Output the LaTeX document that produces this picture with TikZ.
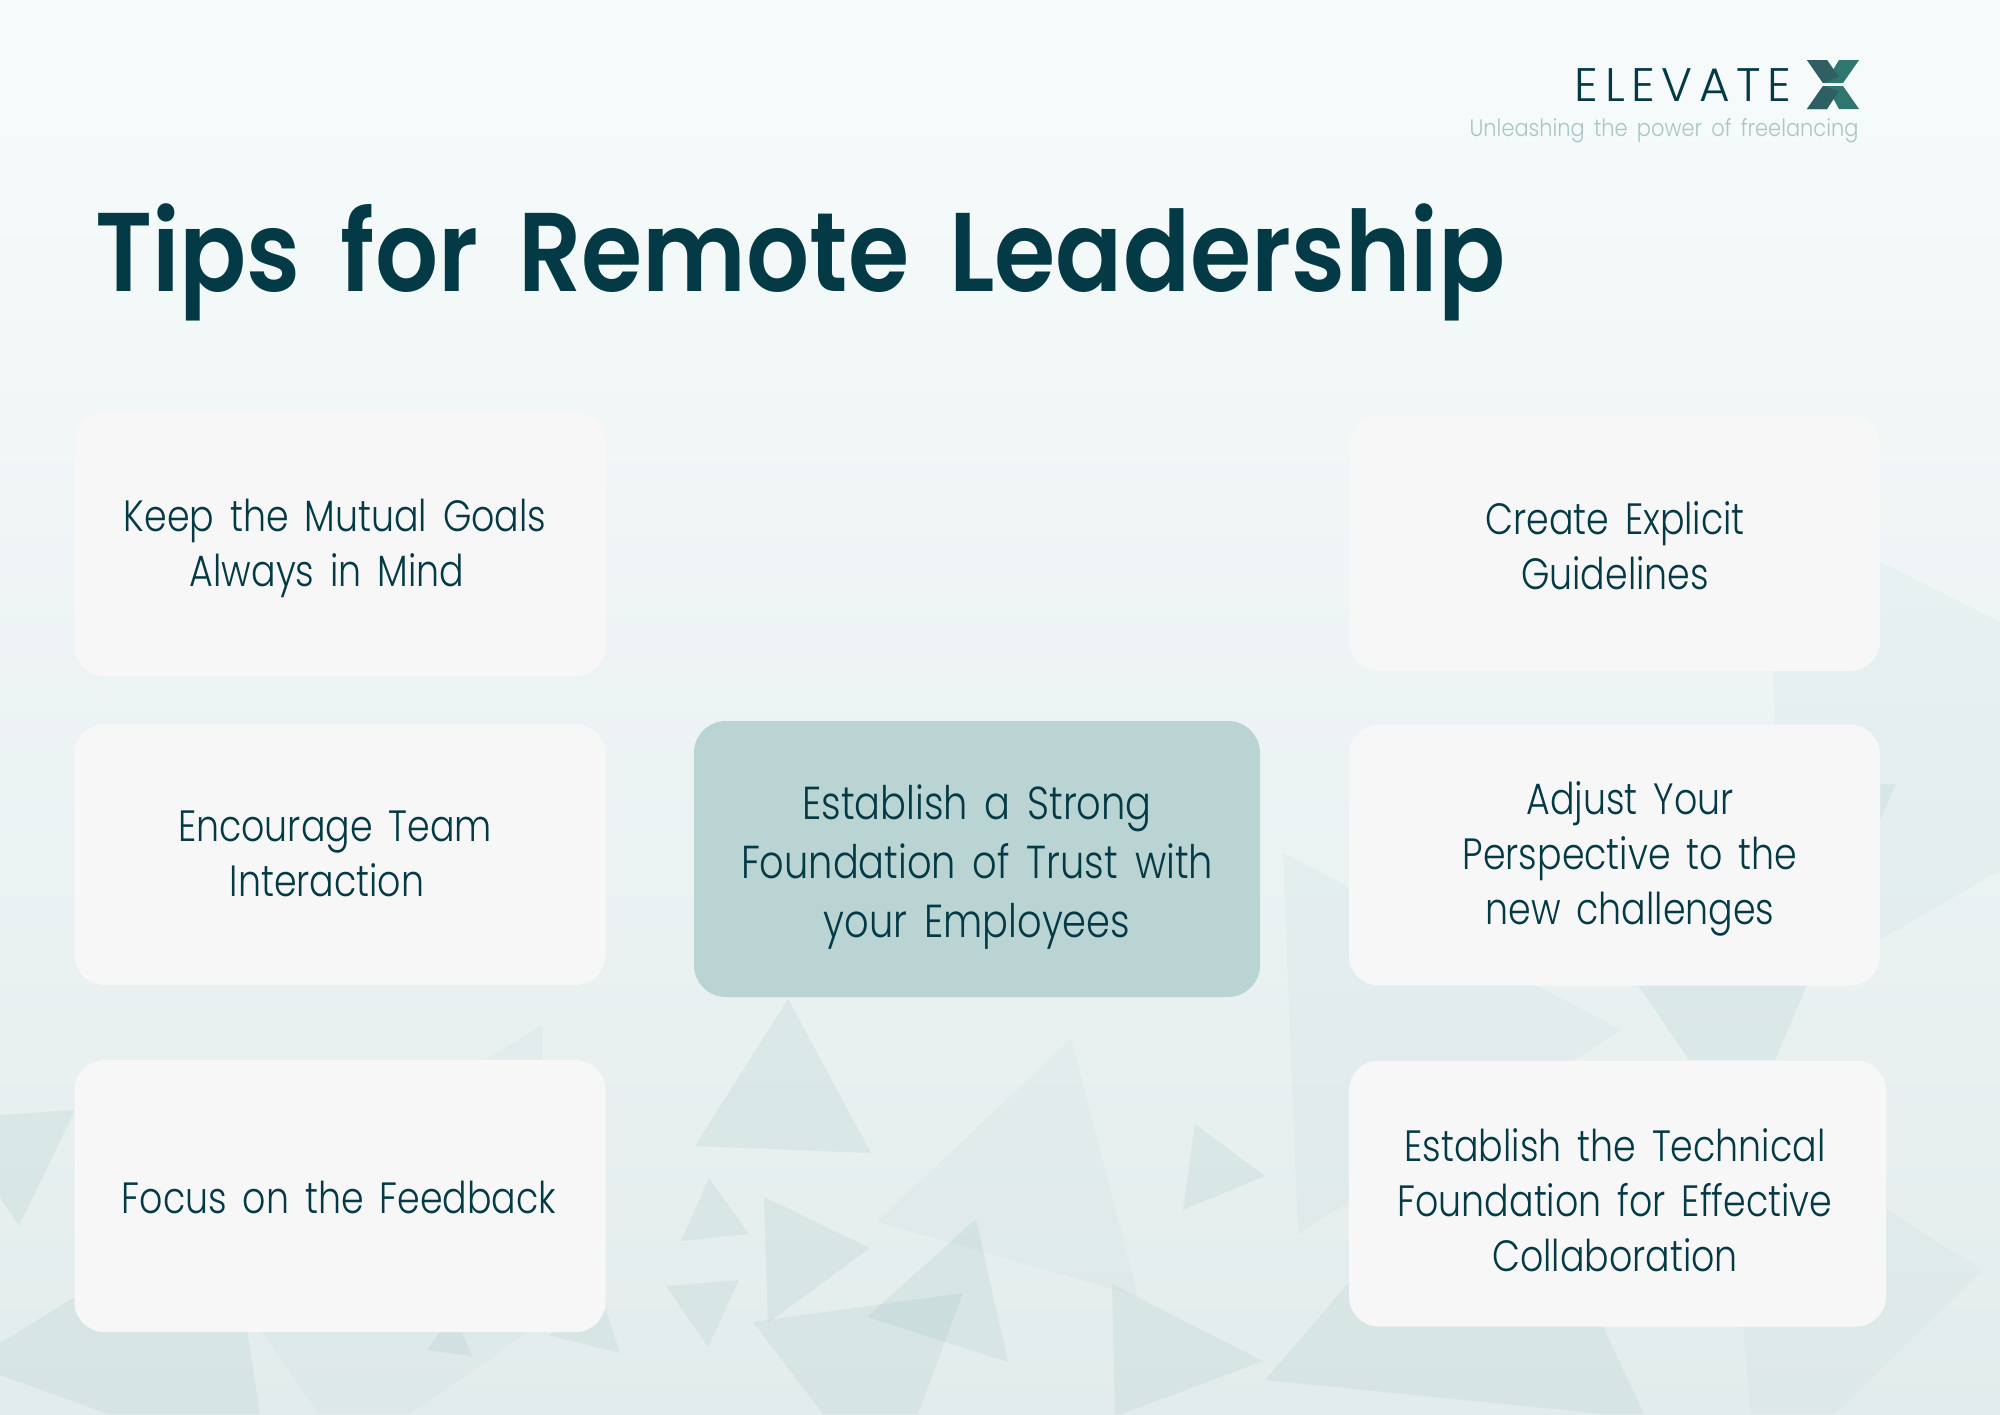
\documentclass[tikz,border=0pt]{standalone}
\usepackage{fontspec}
\setmainfont{Poppins}
\newfontfamily\tipfont{Poppins}[UprightFont=* Light,FakeStretch=0.83,WordSpace=1.6]
\newfontfamily\titlefont{Poppins}[UprightFont=* SemiBold,FakeStretch=0.884,WordSpace=1.7]
\newfontfamily\tagfont{Poppins}[UprightFont=* Light,FakeStretch=0.88,WordSpace=1.6]
\newfontfamily\brandfont{Poppins}[UprightFont=* Light,LetterSpace=14]
\definecolor{inkteal}{HTML}{033A45}
\definecolor{midteal}{HTML}{2F7670}
\definecolor{darkteal}{HTML}{2F5F62}
\definecolor{paleteal}{HTML}{BAD3D3}
\definecolor{cardwhite}{HTML}{F7F7F7}
\definecolor{tagteal}{HTML}{A9C5C5}
\definecolor{shardteal}{HTML}{3F8A86}
\definecolor{skytop}{HTML}{F7FBFC}
\definecolor{skybottom}{HTML}{E3ECEC}
\tikzset{
    tipbox/.style={fill=cardwhite, rounded corners=30pt},
    corebox/.style={fill=paleteal, rounded corners=32pt},
    tiptext/.style={text=inkteal, align=center, font=\tipfont\fontsize{43.8}{55}\selectfont},
    coretext/.style={text=inkteal, align=center, font=\tipfont\fontsize{46.2}{59.3}\selectfont},
    shard/.style={fill=shardteal, opacity=.08},
    faintshard/.style={fill=shardteal, opacity=.035},
}
\begin{document}
\begin{tikzpicture}[x=1pt,y=-1pt]
    \useasboundingbox (0,0) rectangle (2000,1414);
    \fill [top color=skytop, bottom color=skybottom] (0,0) rectangle (2000,1414);
    % background shards
    \fill [shard] (788,999) -- (695,1146) -- (871,1153) -- cycle;
    \fill [shard] (0,1115) -- (75,1110) -- (19,1226) -- (0,1197) -- cycle;
    \fill [shard] (709,1178) -- (681,1241) -- (749,1234) -- cycle;
    \fill [shard] (764,1197) -- (768,1323) -- (870,1248) -- cycle;
    \fill [faintshard] (1071,1039) -- (877,1222) -- (1138,1296) -- cycle;
    \fill [shard] (976,1219) -- (867,1317) -- (1008,1362) -- cycle;
    \fill [shard] (666,1286) -- (739,1280) -- (708,1347) -- cycle;
    \fill [shard] (753,1322) -- (963,1293) -- (918,1414) -- (823,1414) -- cycle;
    \fill [shard] (75,1297) -- (0,1343) -- (0,1375) -- (108,1414) -- (260,1414) -- (247,1330) -- cycle;
    \fill [faintshard] (261,1331) -- (319,1414) -- (410,1414) -- (530,1331) -- cycle;
    \fill [shard] (440,1332) -- (462,1332) -- (472,1356) -- (427,1350) -- cycle;
    \fill [shard] (548,1335) -- (620,1353) -- (606,1310) -- cycle;
    \fill [faintshard] (542,1025) -- (485,1060) -- (542,1060) -- cycle;
    \fill [faintshard] (1283,853) -- (1298,1234) -- (1622,1030) -- cycle;
    \fill [shard] (1638,985) -- (1807,985) -- (1775,1060) -- (1689,1060) -- cycle;
    \fill [faintshard] (1880,561) -- (2000,622) -- (2000,870) -- (1820,975) -- (1775,730) -- (1770,600) -- cycle;
    \fill [shard] (1880,784) -- (1896,784) -- (1880,820) -- cycle;
    \fill [shard] (1195,1124) -- (1265,1176) -- (1183,1210) -- cycle;
    \fill [shard] (1112,1284) -- (1263,1361) -- (1122,1414) -- (1115,1414) -- cycle;
    \fill [shard] (1420,1200) -- (1265,1380) -- (1603,1414) -- (1644,1414) -- (1600,1320) -- cycle;
    \fill [faintshard] (1880,1205) -- (1982,1270) -- (1835,1414) -- (1751,1414) -- (1743,1325) -- cycle;
    % logo
    \node (brand) at (1683,85) [text=inkteal, font=\brandfont\fontsize{47}{47}\selectfont] {ELEVATE};
    \fill [midteal] (1807,60) -- (1827,60) -- (1833,70) -- (1839,60) -- (1859,60) -- (1843,83) -- (1823,83) -- cycle;
    \fill [midteal] (1823,86) -- (1843,86) -- (1859,109) -- (1839,109) -- (1833,98) -- (1827,109) -- (1807,109) -- cycle;
    \fill [darkteal] (1807,60) -- (1827,60) -- (1839,77) -- (1823,83) -- cycle;
    \fill [darkteal] (1823,86) -- (1839,91) -- (1827,109) -- (1807,109) -- cycle;
    \node (tagline) at (1862,131) [anchor=east, text=tagteal, font=\tagfont\fontsize{23.8}{24}\selectfont] {Unleashing the power of freelancing};
    % title
    \node (title) at (95,291) [anchor=base west, inner sep=0pt, text=inkteal, font=\titlefont\fontsize{112}{112}\selectfont] {Tips for Remote Leadership};
    % boxes
    \node (keepbox) at (340,544) [tipbox, minimum width=531pt, minimum height=264pt] {};
    \node (teambox) at (340,854.5) [tipbox, minimum width=531pt, minimum height=261pt] {};
    \node (feedbox) at (340,1196) [tipbox, minimum width=531pt, minimum height=272pt] {};
    \node (rulebox) at (1614.5,543) [tipbox, minimum width=531pt, minimum height=256pt] {};
    \node (viewbox) at (1614.5,855) [tipbox, minimum width=531pt, minimum height=261pt] {};
    \node (techbox) at (1617.5,1193.5) [tipbox, minimum width=537pt, minimum height=266pt] {};
    \node (trustbox) at (977,859) [corebox, minimum width=566pt, minimum height=276pt] {};
    % texts
    \node (keeptext) at (335,548) [tiptext] {Keep the Mutual Goals\\Always in Mind\hspace*{16pt}};
    \node (teamtext) at (335,854) [tiptext] {Encourage Team\\Interaction\hspace*{16pt}};
    \node (feedtext) at (339,1197) [tiptext] {Focus on the Feedback};
    \node (ruletext) at (1615,546) [tiptext] {Create Explicit\\Guidelines};
    \node (viewtext) at (1630,859) [tiptext] {Adjust Your\\Perspective to the\\new challenges};
    \node (techtext) at (1615,1200) [tiptext] {Establish the Technical\\Foundation for Effective\\Collaboration};
    \node (trusttext) at (977,867) [coretext] {Establish a Strong\\Foundation of Trust with\\your Employees};
\end{tikzpicture}
\end{document}
